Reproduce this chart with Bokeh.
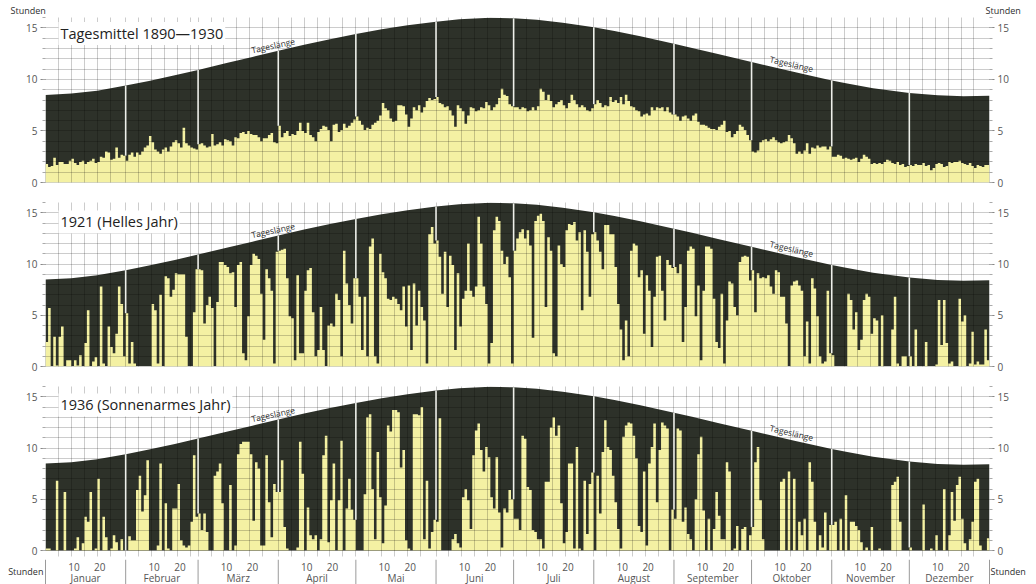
from bokeh.plotting import figure
from bokeh.models import Range1d, FixedTicker, LinearAxis, Label, Grid
from bokeh.layouts import column
from bokeh.embed import file_html
from bokeh.resources import INLINE
from bokeh.core.properties import value

# ---------------- data ----------------
MONTHS = ["Januar", "Februar", "März", "April", "Mai", "Juni", "Juli",
          "August", "September", "Oktober", "November", "Dezember"]
MONTH_LEN = [31, 28, 31, 30, 31, 30, 31, 31, 30, 31, 30, 31]
TITLES = ["Tagesmittel 1890\u20141930", "1921 (Helles Jahr)", "1936 (Sonnenarmes Jahr)"]
Y_TICKS = [0, 5, 10, 15]
DAY_TICK_LABELS = {11: "10", 21: "20"}   # offset in month -> label
UNIT = "Stunden"

# day length (Tageslänge), hours, read at these day-of-year positions
DL_DAY = [0, 10, 20, 31, 40, 50, 59, 70, 80, 90, 100, 110, 120, 130, 140, 151, 160,
          172, 181, 190, 200, 212, 220, 230, 243, 250, 260, 273, 280, 290, 304, 310,
          320, 334, 345, 355, 365]
DL_HOURS = [8.48, 8.62, 8.90, 9.40, 9.85, 10.40, 10.92, 11.58, 12.18, 12.78, 13.36,
            13.90, 14.40, 14.85, 15.25, 15.60, 15.82, 15.98, 15.92, 15.78, 15.50,
            15.05, 14.68, 14.18, 13.45, 13.05, 12.45, 11.68, 11.27, 10.68, 9.90,
            9.60, 9.15, 8.68, 8.45, 8.36, 8.42]

# daily sunshine hours, one row per month
SUN_MEAN = (
    [1.8,1.5,1.6,2.4,1.7,2.0,2.0,1.8,1.8,2.1,2.3,1.9,1.7,2.0,2.1,1.8,2.0,2.1,2.3,1.9,2.0,2.5,2.4,3.0,2.9,2.2,2.3,3.4,2.4,2.7,2.6] +
    [2.1,2.7,2.9,2.5,2.9,2.7,3.0,3.4,3.6,4.5,3.9,3.2,3.0,2.8,3.2,3.4,3.0,3.5,3.9,4.1,3.8,3.4,5.3,3.8,3.6,3.4,3.3,3.2] +
    [3.7,3.8,3.6,3.4,3.5,4.7,3.6,3.7,3.9,3.6,4.2,4.1,4.0,3.6,4.4,4.3,4.8,4.9,4.7,5.0,4.7,4.6,4.6,4.4,4.0,4.3,4.3,4.6,4.8,3.9,3.8] +
    [5.5,4.4,4.8,5.0,4.5,4.7,4.6,5.0,5.8,5.0,4.8,5.8,4.6,4.4,4.0,4.9,5.2,5.5,5.4,5.1,4.0,5.6,5.7,4.9,5.1,5.7,5.3,5.5,5.8,6.1] +
    [6.4,6.0,5.6,5.1,5.3,5.2,5.6,5.8,6.0,6.5,7.7,7.2,7.0,6.2,5.9,6.0,7.5,7.5,7.4,6.6,5.4,6.2,7.3,7.0,7.5,6.8,7.3,7.9,8.2,8.0,8.1] +
    [8.3,7.7,7.6,7.3,7.4,7.0,6.5,5.4,7.5,7.2,6.9,5.7,6.5,7.3,7.2,6.9,7.0,7.3,7.2,7.8,7.5,7.0,7.3,7.6,8.2,9.1,8.5,8.4,7.6,7.4] +
    [7.3,7.3,7.1,7.3,7.2,6.9,7.0,7.3,7.0,7.4,9.1,8.8,8.0,8.5,7.9,7.3,7.6,7.8,8.0,7.5,7.2,7.7,8.5,8.0,7.6,7.3,7.5,7.3,7.0,6.9,7.2] +
    [7.6,8.0,7.7,7.3,7.5,7.4,8.3,7.8,8.0,7.7,8.3,7.6,8.5,7.9,7.4,7.3,7.0,6.9,6.4,6.6,6.7,6.5,7.3,7.0,7.3,7.2,7.3,6.9,7.3,6.8,6.6] +
    [6.6,6.4,6.0,6.4,6.5,6.2,6.0,6.5,6.7,5.9,5.6,5.6,5.5,5.3,5.2,5.2,5.1,5.4,5.6,6.0,4.9,5.0,4.4,4.7,5.0,5.6,5.4,5.1,4.6,4.1] +
    [3.0,2.9,3.1,3.9,4.1,4.2,4.0,4.2,4.4,4.1,3.9,3.8,3.9,4.0,4.6,4.3,3.8,2.8,3.0,2.8,3.1,3.8,2.8,3.4,3.3,3.6,3.4,3.5,3.5,3.2,3.5] +
    [2.5,2.5,2.7,2.6,2.3,2.4,2.3,2.2,2.3,2.4,2.0,2.3,2.7,2.5,2.3,1.8,1.9,1.8,1.9,1.8,2.0,2.2,2.1,1.9,1.8,2.0,1.7,1.8,1.5,1.6] +
    [1.7,1.6,1.8,1.7,1.7,1.9,1.6,1.7,1.2,1.4,1.8,1.9,1.8,1.5,1.6,2.0,1.9,2.0,2.0,2.1,1.9,1.8,1.7,1.9,1.6,1.4,1.7,1.6,1.5,1.7,1.7]
)

SUN_1921 = (
    [2.4,5.7,0,2.9,0.1,2.9,3.9,0,0.6,0.6,0,0.6,0.1,1.1,0,2.3,5.5,0,0.5,0.9,0,7.8,0.3,0,3.9,1.9,1.3,3.2,7.8,6.1,1.0] +
    [5.2,0.3,2.4,0.3,0,0,0,0,0,0,6.1,5.5,0.3,7.0,0,8.8,8.6,6.8,7.5,9.1,9.0,9.0,9.0,2.9,0,0,5.3,9.5] +
    [9.5,9.4,4.2,6.0,6.8,5.7,0,6.3,10.2,10.2,9.9,9.7,9.1,9.2,5.8,9.9,10.2,1.3,0.6,4.9,9.9,11.0,10.8,10.5,7.1,2.6,9.5,8.6,7.4,0.3,11.2] +
    [11.3,11.4,11.5,8.6,4.9,4.7,0.6,8.9,1.3,1.3,7.4,9.4,9.6,5.3,1.0,1.6,5.8,1.6,0,4.0,4.2,3.9,7.1,6.5,1.0,11.3,8.1,6.0,4.2,8.6] +
    [8.6,6.8,1.6,6.8,1.0,11.7,12.5,1.0,0.3,11.0,9.2,8.6,6.6,6.5,6.8,6.6,6.1,5.5,7.8,3.9,7.9,1.6,8.1,4.0,7.4,5.8,4.5,0.3,12.9,13.6,12.0] +
    [12.3,10.7,7.1,11.2,5.8,10.8,9.9,1.6,9.1,3.9,6.6,7.4,12.0,7.4,6.8,7.8,14.6,12.0,7.8,6.1,0.3,2.3,13.3,14.6,14.2,11.3,10.0,10.7,8.7,0.3] +
    [11.3,12.5,13.1,13.4,12.5,13.3,11.8,2.8,14.2,14.7,14.9,14.2,5.8,12.6,11.3,1.3,1.0,11.8,10.0,9.7,13.3,13.9,13.8,14.1,12.3,13.1,5.5,13.3,11.2,6.8,12.9] +
    [13.1,12.3,11.2,9.5,13.8,13.8,12.9,12.9,9.7,6.1,3.6,0.6,4.5,1.0,11.3,12.0,11.8,8.7,9.4,3.2,8.9,7.4,1.9,6.8,10.7,10.8,7.4,4.5,10.4,9.9,9.6] +
    [9.7,9.1,10.0,2.4,5.8,11.3,11.7,11.5,4.9,7.9,0.6,7.4,11.7,11.7,11.5,6.6,2.4,1.8,7.1,0.3,4.5,8.3,8.1,5.8,5.0,10.2,10.7,10.8,10.7,8.4] +
    [9.4,5.3,9.1,8.6,8.7,8.6,8.9,7.8,7.1,9.4,9.2,6.8,6.8,4.2,0,7.9,8.3,8.4,7.9,7.4,1.0,4.4,0.3,8.6,7.6,4.9,1.0,0.3,0.5,7.4,1.3] +
    [1.1,0,0,0,0,0,7.1,6.5,3.6,5.3,1.6,2.6,6.5,7.1,6.8,3.2,4.7,4.5,0,5.0,0,0,0,3.6,6.8,0.3,0,1.0,1.0,0] +
    [1.0,0,3.6,0,0,0,2.4,0,0,0,0.2,6.5,2.1,6.5,2.3,0.3,0.5,0,0,6.6,4.4,5.0,0,0.3,3.4,0.2,0.5,0.2,0.2,3.6,0.6]
)

SUN_1936 = (
    [0.2,0.2,0,0,6.8,0,0,5.7,0,0,0,0.2,1.3,0,0.7,3.3,2.8,5.7,0,0.2,7.0,0,3.3,1.3,0,0.2,1.5,0.8,0,1.1,0] +
    [0,1.4,1.0,1.0,5.9,7.3,3.8,5.4,8.8,0,0,0,0.5,8.5,0,4.6,0.2,0,4.1,4.1,6.5,1.0,0.5,0.3,0.5,2.8,9.3,3.3] +
    [3.6,2.0,3.6,1.8,0,0,7.3,7.7,8.5,4.6,0,0,6.4,0,0.5,9.4,10.4,10.6,10.6,10.6,9.4,2.9,8.6,8.0,0.5,0.5,9.3,4.7,1.3,6.5,5.7] +
    [5.7,8.8,2.3,0.2,0,0,0,0.3,10.6,7.5,0,4.2,1.5,1.1,1.5,0,1.1,9.3,11.2,0.8,4.9,8.5,0,4.9,10.7,0,4.1,7.0,4.0,3.0] +
    [0,0,0,5.5,13.0,13.3,6.0,1.1,9.6,5.2,0.7,4.4,12.2,11.6,13.7,13.7,13.5,8.1,9.8,1.0,0.2,0,13.3,13.3,13.2,14.0,1.1,6.8,0.2,1.8,3.0] +
    [2.8,12.9,0,0,0,0,1.1,1.6,0.7,0.3,5.2,6.0,4.9,2.1,9.3,11.7,12.4,9.8,7.7,10.1,9.1,5.2,4.1,9.1,3.7,0.3,4.1,3.7,5.9,5.0] +
    [3.1,3.1,2.0,11.2,10.9,6.2,5.9,2.0,1.8,1.1,1.1,0.2,6.7,6.7,12.0,13.0,11.2,12.2,4.6,0.7,1.8,8.5,8.5,0.2,10.1,0.2,0,6.8,1.6,6.5,7.6] +
    [0,7.3,3.6,9.6,12.7,10.1,9.8,7.3,4.7,2.1,0.2,11.1,12.2,12.5,12.4,11.2,9.0,2.4,1.8,7.7,0.5,8.5,10.1,12.4,4.7,9.8,12.5,12.2,11.9,0,4.0] +
    [3.1,11.9,11.7,2.8,4.2,1.6,1.1,0,5.0,9.4,11.1,3.9,0,3.1,0,2.1,5.7,3.4,1.1,1.1,8.6,7.7,0,0.2,2.4,0,2.1,2.3,0,1.5] +
    [2.3,8.6,10.1,4.9,1.1,0,0,0,0,0,0,6.7,7.0,0,7.7,0,7.0,0,2.8,1.5,3.1,0,8.6,6.7,2.8,0,1.5,0.3,3.7,0,2.5] +
    [2.5,2.8,0,3.1,0,5.4,0,2.8,2.8,2.4,2.0,0.8,0,0.3,0,2.3,0,0,0.2,0,0,0,0,6.4,6.7,7.2,2.8,0,0,0] +
    [0.3,0,0,0,0,4.5,0,0,0.2,0,1.5,0,0,6.0,0,1.5,5.7,2.9,6.4,7.2,3.1,0.7,0,1.1,2.8,6.7,7.0,0.5,0,0,1.2]
)

# ---------------- style / layout ----------------
DARK = "#2d3129"
YELLOW = "#f4f1a3"
TEXT = "#2e2e2e"
AXTEXT = "#555555"
FONT = "Open Sans"

W = 1036
BL, BR = 45, 47                 # left/right borders -> frame 944 px for 365 days
FRAME_W = W - BL - BR
PX_PER_DAY = FRAME_W / 365.0

MONTH_START = [sum(MONTH_LEN[:i]) for i in range(12)]
BOUNDS = MONTH_START + [365]
GRID_DAYS = [m + k for m in MONTH_START for k in (0, 5, 10, 15, 20, 25)] + [365]
XR = Range1d(0, 365)
XR_FULL = Range1d(-BL / PX_PER_DAY, (W - BL) / PX_PER_DAY)   # same day scale, full width


def dl_at(day):
    return DL_HOURS[DL_DAY.index(day)]


def style_y_axis(ax):
    ax.ticker = FixedTicker(ticks=Y_TICKS, minor_ticks=list(range(17)))
    ax.axis_line_color = None
    ax.major_tick_out = 5
    ax.major_tick_in = 0
    ax.minor_tick_out = 3
    ax.minor_tick_in = 0
    ax.major_tick_line_color = "#888888"
    ax.minor_tick_line_color = "#aaaaaa"
    ax.major_label_text_font = FONT
    ax.major_label_text_font_size = "10px"
    ax.major_label_text_color = AXTEXT
    ax.major_label_standoff = 3


def bare_figure(height, xr, yr, **kw):
    p = figure(width=W, height=height, x_range=xr, y_range=yr, output_backend="svg",
               toolbar_location=None, outline_line_color=None,
               background_fill_color="white", border_fill_color="white", **kw)
    for r in list(p.center):
        r.visible = False
    return p


def make_panel(sun, title, top_b, bottom_b, height, ymin, title_y):
    p = bare_figure(height, XR, Range1d(ymin, 16), x_axis_location=None,
                    min_border_left=BL, min_border_right=BR,
                    min_border_top=top_b, min_border_bottom=bottom_b)

    # possible sunshine (day length) in dark
    p.varea(x=DL_DAY, y1=0, y2=DL_HOURS, fill_color=DARK)
    # actual sunshine, one step per day
    xs = list(range(len(sun) + 1))
    ys = list(sun) + [sun[-1]]
    p.varea_step(x=xs, y1=0, y2=ys, step_mode="after", fill_color=YELLOW)

    # grid drawn over the marks
    p.add_layout(Grid(dimension=0, ticker=FixedTicker(ticks=GRID_DAYS), grid_line_color="black",
                      grid_line_alpha=0.2, grid_line_width=1, level="guide"))
    p.add_layout(Grid(dimension=1, ticker=FixedTicker(ticks=list(range(17))),
                      grid_line_color="black", grid_line_alpha=0.2, grid_line_width=1,
                      level="guide"))

    # white month separators inside the dark area (from sunshine top to day length)
    inner = MONTH_START[1:]
    y0 = [max(sun[m - 1], sun[m]) for m in inner]
    y1 = [dl_at(m) for m in inner]
    sep = p.segment(x0=inner, y0=y0, x1=inner, y1=y1, line_color="#eef0ea", line_width=1.6)
    sep.level = "overlay"

    style_y_axis(p.yaxis[0])
    rax = LinearAxis()
    style_y_axis(rax)
    p.add_layout(rax, "right")

    p.add_layout(Label(x=5, y=title_y, text=title, text_font=FONT, text_font_size="14.5px",
                       text_color="#222222", text_baseline="middle",
                       background_fill_color="white", padding=2))
    p.add_layout(Label(x=88, y=13.3, text="Tageslänge", text_font=FONT, text_font_size="8.5px",
                       text_color=TEXT, text_align="center", text_baseline="middle",
                       angle=0.21))
    p.add_layout(Label(x=288.5, y=11.5, text="Tageslänge", text_font=FONT, text_font_size="8.5px",
                       text_color=TEXT, text_align="center", text_baseline="middle",
                       angle=-0.23))
    return p


# header row with the unit labels (frame covers the full width)
H_HEAD = 17
head = bare_figure(H_HEAD, XR_FULL, Range1d(-H_HEAD, 0), x_axis_location=None,
                   y_axis_location=None, min_border=0, frame_align=False)
head.text(x=[-BL / PX_PER_DAY + 10 / PX_PER_DAY], y=[-9.5], text=[UNIT], text_font=value(FONT),
          text_font_size="9px", text_color=TEXT, text_align="left", text_baseline="middle")
head.text(x=[365 - 4 / PX_PER_DAY], y=[-9.5], text=[UNIT], text_font=value(FONT),
          text_font_size="9px", text_color=TEXT, text_align="left", text_baseline="middle")

p1 = make_panel(SUN_MEAN, TITLES[0], 0, 10, 175, 0, 14.45)
p2 = make_panel(SUN_1921, TITLES[1], 10, 10, 184, 0, 14.1)
p3 = make_panel(SUN_1936, TITLES[2], 10, 3, 183, -0.585, 14.2)

# footer row: day labels, month names, unit labels, month separators
H_FOOT = 25
foot = bare_figure(H_FOOT, XR_FULL, Range1d(-H_FOOT, 0), x_axis_location=None,
                   y_axis_location=None, min_border=0, frame_align=False)
foot.segment(x0=BOUNDS, y0=0, x1=BOUNDS, y1=-H_FOOT, line_color="#9a9a9a", line_width=1)
day_x = [m + off for m in MONTH_START for off in DAY_TICK_LABELS]
day_t = [lab for m in MONTH_START for lab in DAY_TICK_LABELS.values()]
foot.text(x=day_x, y=-7, text=day_t, text_font=value(FONT), text_font_size="10px",
          text_color=AXTEXT, text_align="center", text_baseline="middle")
mid = [m + n / 2 for m, n in zip(MONTH_START, MONTH_LEN)]
foot.text(x=mid, y=-18, text=MONTHS, text_font=value(FONT), text_font_size="10px",
          text_color=AXTEXT, text_align="center", text_baseline="middle")
foot.text(x=[-0.8], y=[-12], text=[UNIT], text_font=value(FONT), text_font_size="9px",
          text_color=TEXT, text_align="right", text_baseline="middle")
foot.text(x=[365.4], y=[-12], text=[UNIT], text_font=value(FONT), text_font_size="9px",
          text_color=TEXT, text_align="left", text_baseline="middle")

layout = column(head, p1, p2, p3, foot, spacing=0)
with open("out.html", "w", encoding="utf-8") as f:
    f.write(file_html(layout, INLINE))
